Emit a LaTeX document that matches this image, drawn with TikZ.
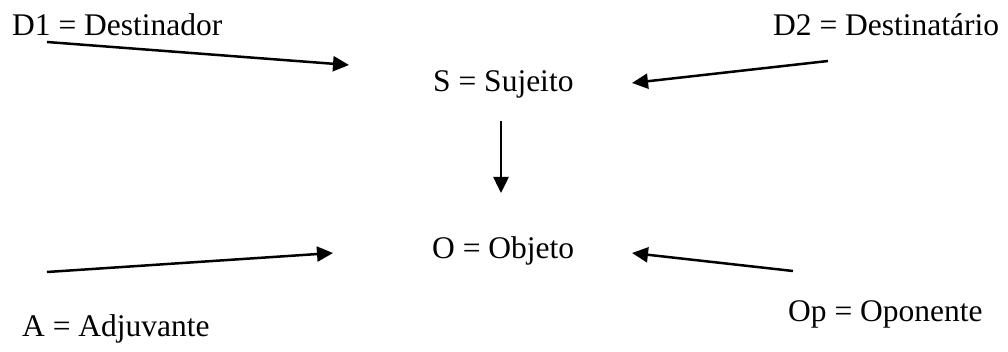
\documentclass[tikz,border=0pt]{standalone}
\usepackage{fontspec}
\setmainfont{Liberation Serif}
\usepackage{tikz}
\usetikzlibrary{positioning, arrows.meta}

\begin{document}
\begin{tikzpicture}[x=1pt, y=-1pt,
        actant/.style={inner sep=0pt, anchor=base west, font=\fontsize{31.5}{36}\selectfont},
        link/.style={line width=2.5pt, -{Triangle[length=16pt, width=15pt]}},
    ]
    \useasboundingbox (0, 0) rectangle (1008, 352);

    % Actants
    \node[actant] (d1) at (12, 36) {D1 = Destinador};
    \node[actant] (d2) at (773, 36) {D2 = Destinatário};
    \node[actant] (suj) at (433, 92) {S = Sujeito};
    \node[actant] (obj) at (432, 259) {O = Objeto};
    \node[actant] (adj) at (22, 336) {A = Adjuvante};
    \node[actant] (opo) at (788, 321) {Op = Oponente};

    % Arrow ends
    \coordinate (d1out) at (47, 42);
    \coordinate (d1in) at (349, 65);
    \coordinate (d2out) at (828, 61);
    \coordinate (d2in) at (632, 83);
    \coordinate (sout) at (501, 121);
    \coordinate (oin) at (501, 193);
    \coordinate (aout) at (47, 272);
    \coordinate (ain) at (333, 253);
    \coordinate (opout) at (793, 271);
    \coordinate (opin) at (632, 253);

    % Arrows
    \draw[link] (d1out) -- (d1in);
    \draw[link] (d2out) -- (d2in);
    \draw[link] (sout) -- (oin);
    \draw[link] (aout) -- (ain);
    \draw[link] (opout) -- (opin);

\end{tikzpicture}
\end{document}
